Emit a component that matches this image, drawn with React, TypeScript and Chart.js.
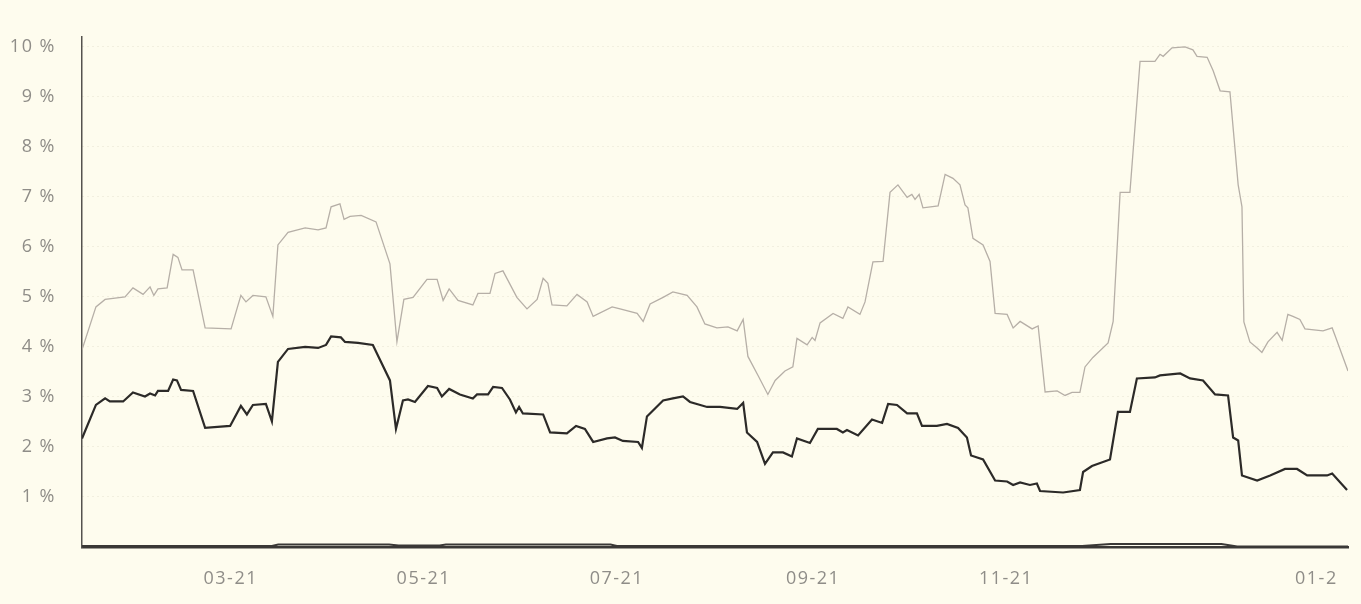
import React, { useEffect, useRef } from 'react';
import { Chart, registerables } from 'chart.js';

Chart.register(...registerables);

// x values are days since 2021-01-13
const grayDays = [0, 4.4, 7.3, 13.6, 16.1, 19.3, 21.5, 22.7, 24.0, 26.9, 28.8, 30.3, 31.6, 35.1, 38.9, 47.1, 50.2, 51.8, 54.0, 58.1, 60.3, 61.9, 65.1, 70.5, 74.6, 77.1, 78.7, 81.5, 82.8, 84.7, 88.2, 92.9, 97.3, 99.5, 101.7, 104.6, 109.0, 112.2, 114.1, 116.0, 118.8, 123.5, 125.1, 128.9, 130.5, 133.0, 137.4, 140.6, 143.8, 145.7, 147.2, 148.5, 153.2, 156.4, 159.6, 161.5, 167.5, 170.0, 175.4, 177.3, 179.5, 183.6, 186.7, 191.2, 194.3, 196.8, 200.6, 204.1, 207.0, 208.9, 210.4, 213.6, 216.7, 219.0, 222.1, 224.6, 225.9, 229.1, 230.7, 231.6, 233.2, 237.3, 240.4, 242.0, 245.8, 247.4, 249.9, 253.1, 255.3, 257.8, 260.7, 262.2, 263.2, 264.5, 265.7, 270.5, 272.7, 275.2, 277.4, 279.0, 279.9, 281.5, 284.7, 286.9, 288.5, 292.3, 294.2, 296.4, 300.2, 302.1, 304.3, 308.1, 310.6, 312.8, 315.3, 316.9, 319.4, 324.2, 325.8, 328.0, 331.1, 334.3, 339.0, 340.6, 341.6, 344.4, 348.5, 351.0, 352.3, 355.5, 357.4, 359.6, 362.7, 365.3, 366.5, 367.1, 369.0, 371.3, 372.8, 374.7, 377.6, 379.2, 381.0, 382.6, 384.8, 386.4, 392.1, 395.0, 395.9, 400.0];
const grayValues = [3.94, 4.8, 4.95, 5.0, 5.18, 5.05, 5.2, 5.03, 5.16, 5.18, 5.85, 5.79, 5.54, 5.54, 4.38, 4.36, 5.03, 4.9, 5.03, 5.0, 4.61, 6.04, 6.29, 6.38, 6.34, 6.38, 6.8, 6.86, 6.55, 6.61, 6.63, 6.5, 5.66, 4.1, 4.95, 4.99, 5.35, 5.35, 4.93, 5.16, 4.93, 4.84, 5.07, 5.07, 5.47, 5.52, 4.99, 4.76, 4.95, 5.37, 5.27, 4.84, 4.82, 5.05, 4.9, 4.61, 4.8, 4.76, 4.67, 4.51, 4.86, 4.99, 5.1, 5.03, 4.8, 4.46, 4.38, 4.4, 4.32, 4.55, 3.81, 3.43, 3.05, 3.33, 3.52, 3.6, 4.17, 4.04, 4.19, 4.13, 4.48, 4.67, 4.57, 4.8, 4.65, 4.9, 5.7, 5.71, 7.09, 7.24, 6.99, 7.05, 6.95, 7.05, 6.78, 6.82, 7.45, 7.37, 7.24, 6.84, 6.78, 6.17, 6.04, 5.71, 4.67, 4.65, 4.38, 4.51, 4.36, 4.42, 3.1, 3.12, 3.03, 3.09, 3.09, 3.6, 3.79, 4.08, 4.51, 7.09, 7.09, 9.71, 9.71, 9.85, 9.81, 9.98, 10.0, 9.94, 9.81, 9.79, 9.52, 9.12, 9.1, 7.24, 6.8, 4.5, 4.1, 3.98, 3.89, 4.1, 4.29, 4.13, 4.65, 4.61, 4.55, 4.36, 4.32, 4.38, 4.23, 3.52];

const blackDays = [0, 4.4, 7.3, 8.8, 13.0, 16.1, 19.9, 21.5, 23.1, 24.0, 27.2, 28.8, 30.0, 31.3, 35.1, 38.9, 46.8, 50.2, 52.1, 54.0, 58.1, 60.0, 61.9, 65.1, 70.5, 74.6, 77.1, 78.7, 81.8, 83.1, 87.2, 91.9, 97.3, 99.2, 101.4, 103.0, 105.2, 109.3, 112.2, 113.7, 116.0, 119.4, 123.5, 124.8, 128.3, 129.9, 132.7, 135.2, 137.1, 138.1, 139.3, 145.7, 147.9, 153.2, 156.1, 158.9, 161.5, 165.9, 168.4, 170.9, 175.7, 176.9, 178.5, 183.6, 186.7, 189.9, 192.1, 197.5, 201.6, 207.0, 208.9, 210.1, 213.3, 215.8, 218.3, 221.5, 224.3, 225.9, 230.0, 232.5, 238.5, 240.4, 241.7, 245.2, 249.6, 252.8, 254.7, 257.5, 260.7, 263.8, 265.4, 270.1, 273.3, 276.8, 279.6, 280.9, 284.7, 288.5, 292.3, 294.2, 296.4, 299.5, 301.7, 302.7, 310.0, 315.3, 316.3, 319.1, 324.8, 327.3, 331.1, 333.3, 339.0, 340.6, 347.0, 350.1, 354.2, 358.0, 362.1, 363.7, 365.3, 366.5, 371.3, 375.4, 380.1, 383.9, 387.1, 393.4, 395.0, 399.7];
const blackValues = [2.17, 2.84, 2.97, 2.91, 2.91, 3.09, 3.01, 3.07, 3.03, 3.12, 3.12, 3.35, 3.33, 3.14, 3.12, 2.38, 2.42, 2.82, 2.65, 2.84, 2.86, 2.51, 3.7, 3.96, 4.0, 3.98, 4.04, 4.21, 4.19, 4.1, 4.08, 4.04, 3.33, 2.36, 2.93, 2.95, 2.9, 3.22, 3.18, 3.01, 3.16, 3.05, 2.97, 3.05, 3.05, 3.2, 3.18, 2.95, 2.69, 2.8, 2.67, 2.65, 2.29, 2.27, 2.42, 2.36, 2.1, 2.17, 2.19, 2.12, 2.1, 1.98, 2.61, 2.93, 2.97, 3.01, 2.9, 2.8, 2.8, 2.76, 2.88, 2.29, 2.1, 1.66, 1.89, 1.89, 1.81, 2.17, 2.08, 2.36, 2.36, 2.29, 2.34, 2.23, 2.55, 2.48, 2.86, 2.84, 2.67, 2.67, 2.42, 2.42, 2.46, 2.38, 2.19, 1.83, 1.75, 1.33, 1.31, 1.24, 1.29, 1.24, 1.27, 1.12, 1.09, 1.14, 1.5, 1.62, 1.75, 2.7, 2.7, 3.37, 3.39, 3.43, 3.47, 3.37, 3.33, 3.05, 3.03, 2.19, 2.13, 1.43, 1.33, 1.43, 1.56, 1.56, 1.43, 1.43, 1.47, 1.14];

const baseDays = [0, 60, 62, 97, 100, 113, 115, 167, 169, 316, 325, 360, 365, 400];
const baseValues = [0.02, 0.02, 0.05, 0.05, 0.03, 0.03, 0.05, 0.05, 0.02, 0.02, 0.06, 0.06, 0.01, 0.01];

const xTickDays = [47, 108, 169, 231, 292, 390];
const xTickLabels = ['03-21', '05-21', '07-21', '09-21', '11-21', '01-2'];
const yTickValues = [1, 2, 3, 4, 5, 6, 7, 8, 9, 10];

const BG = '#fefcee';
const TEXT = '#8f8d88';
const FONT = { family: '"Open Sans", "DejaVu Sans", sans-serif', size: 18 };

const spacingPlugin = {
  id: 'letterSpacing',
  beforeDraw: (chart: any) => {
    chart.ctx.letterSpacing = '1.5px';
  },
};

export default function App() {
  const ref = useRef<HTMLCanvasElement>(null);
  useEffect(() => {
    document.body.style.margin = '0';
    document.body.style.background = BG;
    const toPts = (xs: number[], ys: number[]) => xs.map((x, i) => ({ x, y: ys[i] }));
    const chart = new Chart(ref.current!, {
      type: 'line',
      plugins: [spacingPlugin],
      data: {
        datasets: [
          { data: toPts(grayDays, grayValues), borderColor: '#b6afa7', borderWidth: 1.3, pointRadius: 0, tension: 0 },
          { data: toPts(blackDays, blackValues), borderColor: '#2c2a28', borderWidth: 2.2, pointRadius: 0, tension: 0 },
          { data: toPts(baseDays, baseValues), borderColor: '#3a3836', borderWidth: 2, pointRadius: 0, tension: 0 },
        ],
      },
      options: {
        animation: false,
        responsive: false,
        maintainAspectRatio: false,
        layout: { padding: { top: 12, right: 13, left: 0, bottom: 0 } },
        plugins: { legend: { display: false }, tooltip: { enabled: false } },
        scales: {
          x: {
            type: 'linear',
            min: 0,
            max: 400,
            afterBuildTicks: (s: any) => {
              s.ticks = xTickDays.map((v) => ({ value: v }));
            },
            afterFit: (s: any) => {
              s.height = 57;
            },
            ticks: {
              autoSkip: false,
              maxRotation: 0,
              padding: 21,
              color: TEXT,
              font: FONT,
              callback: (_v: any, i: number) => xTickLabels[i],
            },
            grid: { display: false, drawTicks: false },
            border: { color: '#3a3836', width: 2.5 },
          },
          y: {
            min: 0,
            max: 10.2,
            afterBuildTicks: (s: any) => {
              s.ticks = yTickValues.map((v) => ({ value: v }));
            },
            afterFit: (s: any) => {
              s.width = 82;
            },
            ticks: {
              padding: 26,
              color: TEXT,
              font: FONT,
              callback: (v: any) => v + ' %',
            },
            grid: { color: 'rgba(175,165,140,0.3)', lineWidth: 1, drawTicks: false },
            border: { color: '#55524e', width: 1.5, dash: [1, 4] },
          },
        },
      },
    });
    return () => chart.destroy();
  }, []);
  return (
    <div style={{ width: 1361, height: 604, background: BG }}>
      <canvas ref={ref} width={1361} height={604} style={{ display: 'block' }} />
    </div>
  );
}
